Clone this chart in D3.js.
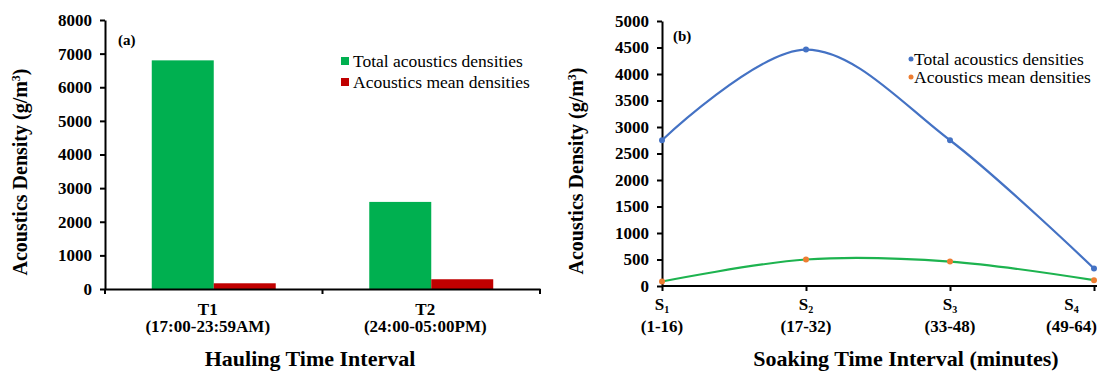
<!DOCTYPE html>
<html>
<head>
<meta charset="utf-8">
<script src="https://cdn.jsdelivr.net/npm/d3@7"></script>
<style>
  body { margin: 0; background: #fff; }
  svg, svg text { font-family: "Liberation Serif", "Times New Roman", serif; }
  .tick text { font-weight: bold; font-size: 17px; fill: #000; }
  .tick line, .domain { stroke: #000; stroke-width: 2; }
</style>
</head>
<body>
<div class="canvas"></div>
<script>
// data
const haulCats = ['T1', 'T2'];
const haulSub = ['(17:00-23:59AM)', '(24:00-05:00PM)'];
const haulSeries = ['Total acoustics densities', 'Acoustics mean densities'];
const haulTotal = [6800, 2590];
const haulMean = [170, 290];
const haulTicks = [0, 1000, 2000, 3000, 4000, 5000, 6000, 7000, 8000];

const soakCats = ['1', '2', '3', '4'];
const soakSub = ['(1-16)', '(17-32)', '(33-48)', '(49-64)'];
const soakSeries = ['Total acoustics densities', 'Acoustics mean densities'];
const soakTotal = [2750, 4460, 2750, 330];
const soakMean = [85, 500, 460, 110];
const soakTicks = [0, 500, 1000, 1500, 2000, 2500, 3000, 3500, 4000, 4500, 5000];

const barColors = ['#00b050', '#c00000'];
const lineColors = ['#4472c4', '#1db34f'];
const markColors = ['#4472c4', '#ed7d31'];

const svg = d3.select('.canvas')
    .append('svg')
    .attr('width', 1100)
    .attr('height', 371);

// ---------- (a) bar chart ----------
const xL = d3.scaleBand()
    .domain(haulCats)
    .range([105, 540])
    .paddingInner(0.43)
    .paddingOuter(0.215);

const xSub = d3.scaleBand()
    .domain(haulSeries)
    .range([0, xL.bandwidth()]);

const yL = d3.scaleLinear()
    .domain([0, 8000])
    .range([289, 20]);

const barData = [];
haulCats.forEach((c, i) => {
    barData.push({ cat: c, s: haulSeries[0], v: haulTotal[i], k: 0 });
    barData.push({ cat: c, s: haulSeries[1], v: haulMean[i], k: 1 });
});

svg.append('g').selectAll('rect')
    .data(barData)
    .enter().append('rect')
    .attr('x', d => xL(d.cat) + xSub(d.s))
    .attr('y', d => yL(d.v))
    .attr('width', xSub.bandwidth())
    .attr('height', d => yL(0) - yL(d.v))
    .attr('fill', d => barColors[d.k]);

svg.append('g')
    .attr('transform', 'translate(105,0)')
    .call(d3.axisLeft(yL).tickValues(haulTicks).tickFormat(d3.format('d'))
        .tickSize(5).tickPadding(8).tickSizeOuter(0));

// x axis with ticks between categories
const xAxisL = svg.append('g')
    .attr('transform', `translate(0,${yL(0)})`)
    .call(d3.axisBottom(xL).tickSize(0).tickFormat('').tickSizeOuter(0));
const bounds = [xL.range()[0], xL(haulCats[1]) - xL.step() * xL.paddingInner() / 2, xL.range()[1]];
xAxisL.selectAll('.bnd')
    .data(bounds)
    .enter().append('line')
    .attr('x1', d => d).attr('x2', d => d)
    .attr('y1', 0).attr('y2', 5)
    .attr('stroke', '#000').attr('stroke-width', 2);

haulCats.forEach((c, i) => {
    const cx = xL(c) + xL.bandwidth() / 2 - 6;
    svg.append('text').attr('x', cx).attr('y', 315)
        .attr('text-anchor', 'middle').attr('font-weight', 'bold').attr('font-size', 17)
        .text(c);
    svg.append('text').attr('x', cx).attr('y', 332)
        .attr('text-anchor', 'middle').attr('font-weight', 'bold').attr('font-size', 17)
        .text(haulSub[i]);
});

svg.append('text').attr('x', 310).attr('y', 366)
    .attr('text-anchor', 'middle').attr('font-weight', 'bold').attr('font-size', 22)
    .text('Hauling Time Interval');

const ytL = svg.append('text')
    .attr('transform', 'translate(27,172) rotate(-90)')
    .attr('text-anchor', 'middle').attr('font-weight', 'bold').attr('font-size', 20);
ytL.append('tspan').text('Acoustics Density (g/m');
ytL.append('tspan').attr('dy', -7).attr('font-size', 12).text('3');
ytL.append('tspan').attr('dy', 7).text(')');

svg.append('text').attr('x', 118).attr('y', 45)
    .attr('font-weight', 'bold').attr('font-size', 15).text('(a)');

// legend (a)
haulSeries.forEach((s, i) => {
    svg.append('rect').attr('x', 341).attr('y', 57 + i * 21)
        .attr('width', 8).attr('height', 8).attr('fill', barColors[i]);
    svg.append('text').attr('x', 353).attr('y', 67 + i * 21)
        .attr('font-size', 17.5).text(s);
});

// ---------- (b) line chart ----------
const xR = d3.scalePoint()
    .domain(soakCats)
    .range([662, 1094]);

const yR = d3.scaleLinear()
    .domain([0, 5000])
    .range([286, 21]);

svg.append('g')
    .attr('transform', 'translate(662,0)')
    .call(d3.axisLeft(yR).tickValues(soakTicks).tickFormat(d3.format('d'))
        .tickSize(5).tickPadding(8).tickSizeOuter(0));

const xAxisR = svg.append('g')
    .attr('transform', `translate(0,${yR(0)})`)
    .call(d3.axisBottom(xR).tickSize(5).tickFormat('').tickSizeOuter(0));
xAxisR.select('.domain').attr('d', `M662,0H1097`);

const line = d3.line()
    .x((d, i) => xR(soakCats[i]))
    .y(d => yR(d))
    .curve(d3.curveCardinal.tension(0));

[soakTotal, soakMean].forEach((vals, k) => {
    svg.append('path')
        .datum(vals)
        .attr('d', line)
        .attr('fill', 'none')
        .attr('stroke', lineColors[k])
        .attr('stroke-width', 2.2);
    svg.append('g').selectAll('circle')
        .data(vals)
        .enter().append('circle')
        .attr('cx', (d, i) => xR(soakCats[i]))
        .attr('cy', d => yR(d))
        .attr('r', 3)
        .attr('fill', markColors[k]);
});

soakCats.forEach((c, i) => {
    let cx = xR(c);
    const g = svg.append('g');
    const t1 = g.append('text').attr('y', 310)
        .attr('text-anchor', 'middle').attr('font-weight', 'bold').attr('font-size', 17);
    t1.append('tspan').text('S');
    t1.append('tspan').attr('dy', 3).attr('font-size', 10).text(c);
    const t2 = g.append('text').attr('y', 332)
        .attr('text-anchor', 'middle').attr('font-weight', 'bold').attr('font-size', 17)
        .text(soakSub[i]);
    // keep label inside the picture
    const w = t2.node().getComputedTextLength();
    if (cx + w / 2 > 1097) cx = 1097 - w / 2;
    t1.attr('x', cx);
    t2.attr('x', cx);
});

svg.append('text').attr('x', 906).attr('y', 366)
    .attr('text-anchor', 'middle').attr('font-weight', 'bold').attr('font-size', 22)
    .text('Soaking Time Interval (minutes)');

const ytR = svg.append('text')
    .attr('transform', 'translate(583,171) rotate(-90)')
    .attr('text-anchor', 'middle').attr('font-weight', 'bold').attr('font-size', 20);
ytR.append('tspan').text('Acoustics Density (g/m');
ytR.append('tspan').attr('dy', -7).attr('font-size', 12).text('3');
ytR.append('tspan').attr('dy', 7).text(')');

svg.append('text').attr('x', 673).attr('y', 41)
    .attr('font-weight', 'bold').attr('font-size', 15).text('(b)');

// legend (b)
soakSeries.forEach((s, i) => {
    svg.append('circle').attr('cx', 911).attr('cy', 59 + i * 18)
        .attr('r', 2.5).attr('fill', markColors[i]);
    svg.append('text').attr('x', 914).attr('y', 65 + i * 18)
        .attr('font-size', 17.5).text(s);
});
</script>
</body>
</html>
